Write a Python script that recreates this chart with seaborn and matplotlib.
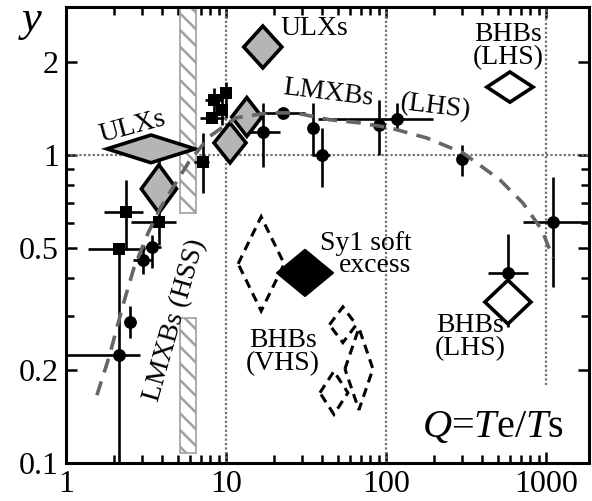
import numpy as np
import pandas as pd
import matplotlib
matplotlib.use("Agg")
import matplotlib.pyplot as plt
import seaborn as sns
from matplotlib.patches import Polygon, Rectangle
from matplotlib.ticker import FixedLocator, NullFormatter, FixedFormatter, LogLocator

# ---------------- data ----------------
# black circles with error bars
circ_q    = [2.14, 2.51, 3.03, 3.45, 17.0, 22.7, 35.0, 39.8, 90.0, 117, 298, 1107, 579]
circ_y    = [0.224, 0.287, 0.456, 0.503, 1.19, 1.37, 1.22, 1.00, 1.25, 1.31, 0.97, 0.606, 0.414]
circ_q_lo = [1.0, 2.51, 2.62, 3.11, 13.1, 16.7, 35.0, 34.4, 88.0, 37.5, 298, 718, 432]
circ_q_hi = [2.90, 2.51, 3.45, 3.92, 21.7, 31.1, 35.0, 44.7, 92.0, 197, 298, 1860, 772]
circ_y_lo = [0.1, 0.255, 0.41, 0.43, 0.914, 1.37, 1.0, 0.787, 1.0, 1.205, 0.855, 0.373, 0.277]
circ_y_hi = [0.5, 0.323, 0.51, 0.55, 1.475, 1.37, 1.475, 1.22, 1.51, 1.475, 1.078, 0.848, 0.554]

# black squares with error bars
sq_q    = [2.14, 2.37, 3.81, 7.18, 8.41, 9.44, 8.17, 10.0]
sq_y    = [0.495, 0.653, 0.606, 0.949, 1.51, 1.40, 1.32, 1.59]
sq_q_lo = [1.37, 1.73, 2.55, 6.3, 7.4, 9.44, 6.87, 10.0]
sq_q_hi = [3.11, 3.03, 4.87, 7.83, 9.4, 9.44, 9.7, 10.0]
sq_y_lo = [0.495, 0.49, 0.51, 0.753, 1.379, 1.251, 1.32, 1.318]
sq_y_hi = [0.495, 0.83, 0.963, 1.18, 1.65, 1.66, 1.32, 1.726]

# model curve (grey dashed)
curve_q = [1.56, 1.86, 2.30, 2.66, 3.26, 3.92, 5.87, 7.83, 11.5, 18.3, 27.0,
           44.7, 68.8, 106, 180, 303, 516, 718, 944, 1107]
curve_y = [0.166, 0.221, 0.333, 0.430, 0.558, 0.678, 0.949, 1.144, 1.318, 1.369, 1.369,
           1.30, 1.27, 1.224, 1.135, 1.015, 0.830, 0.698, 0.571, 0.463]

# diamonds: centre Q, centre y, half width / half height (decades)
grey_q  = [3.40, 3.81, 17.0, 13.5, 10.6]
grey_y  = [1.046, 0.776, 2.24, 1.328, 1.094]
grey_hw = [0.275, 0.11, 0.119, 0.094, 0.10]
grey_hh = [0.045, 0.078, 0.068, 0.063, 0.065]

open_q  = [596, 579]
open_y  = [1.66, 0.333]
open_hw = [0.144, 0.144]
open_hh = [0.049, 0.071]

sy1_q, sy1_y, sy1_hw, sy1_hh = [31.2], [0.414], [0.175], [0.075]

dash_q  = [16.6, 53.8, 67.8, 47.3]
dash_y  = [0.443, 0.281, 0.202, 0.169]
dash_hw = [0.144, 0.084, 0.0875, 0.0875]
dash_hh = [0.153, 0.058, 0.133, 0.070]

# hatched LMXB (HSS) band
band_q  = [5.17, 6.49]
band_y_segments = [(0.65, 3.1), (0.108, 0.296)]

x_ticks = [1, 10, 100, 1000]
x_labels = ["1", "10", "100", "1000"]
y_ticks = [0.1, 0.2, 0.5, 1, 2]
y_labels = ["0.1", "0.2", "0.5", "1", "2"]
y_minor = [0.3, 0.4, 0.6, 0.7, 0.8, 0.9]

# ---------------- style ----------------
sns.set_style("ticks")
plt.rcParams["font.family"] = ["Liberation Serif", "DejaVu Serif"]
plt.rcParams["mathtext.fontset"] = "custom"
plt.rcParams["mathtext.rm"] = "Liberation Serif"
plt.rcParams["mathtext.it"] = "Liberation Serif:italic"
plt.rcParams["hatch.color"] = "#9a9a9a"
plt.rcParams["hatch.linewidth"] = 1.8
plt.rcParams["text.color"] = "black"
plt.rcParams["xtick.color"] = "black"
plt.rcParams["ytick.color"] = "black"
plt.rcParams["xtick.labelcolor"] = "black"
plt.rcParams["ytick.labelcolor"] = "black"

fig = plt.figure(figsize=(5.92, 5.01), dpi=100)
ax = fig.add_axes([66 / 592, 38 / 501, 523 / 592, 456 / 501])
ax.set_xscale("log")
ax.set_yscale("log")
ax.set_xlim(1, 1860)
ax.set_ylim(0.1, 3.02)

# reference lines
grid_kw = dict(color="#707070", lw=1.6, linestyle=(0, (1, 1)), zorder=1)
ax.axvline(10, **grid_kw)
ax.axvline(100, **grid_kw)
ax.axvline(1000, ymin=0.17, ymax=1, **grid_kw)
ax.axhline(1, **grid_kw)

# hatched band
for lo, hi in band_y_segments:
    ax.add_patch(Rectangle((band_q[0], lo), band_q[1] - band_q[0], hi - lo,
                           facecolor="white", edgecolor="#a0a0a0", lw=1.2,
                           hatch="\\\\", zorder=1.5))

def diamond(q, y, hw, hh, **kw):
    verts = [(q * 10 ** (-hw), y), (q, y * 10 ** hh), (q * 10 ** hw, y), (q, y * 10 ** (-hh))]
    ax.add_patch(Polygon(verts, closed=True, **kw))

# error bars
cq, cy = np.array(circ_q, float), np.array(circ_y, float)
ax.errorbar(cq, cy,
            xerr=[cq - np.array(circ_q_lo), np.array(circ_q_hi) - cq],
            yerr=[cy - np.array(circ_y_lo), np.array(circ_y_hi) - cy],
            fmt="none", ecolor="black", elinewidth=1.9, capsize=0, zorder=2)
sq, sy = np.array(sq_q, float), np.array(sq_y, float)
ax.errorbar(sq, sy,
            xerr=[sq - np.array(sq_q_lo), np.array(sq_q_hi) - sq],
            yerr=[sy - np.array(sq_y_lo), np.array(sq_y_hi) - sy],
            fmt="none", ecolor="black", elinewidth=1.9, capsize=0, zorder=2)

sns.scatterplot(x=circ_q, y=circ_y, marker="o", s=85, color="black",
                edgecolor="black", linewidth=0, ax=ax, zorder=2.5)
sns.scatterplot(x=sq_q, y=sq_y, marker="s", s=64, color="black",
                edgecolor="black", linewidth=0, ax=ax, zorder=2.5)

# diamonds
for q, y, hw, hh in zip(grey_q, grey_y, grey_hw, grey_hh):
    diamond(q, y, hw, hh, facecolor="#b5b5b5", edgecolor="black", lw=2.6,
            joinstyle="miter", zorder=3)
for q, y, hw, hh in zip(open_q, open_y, open_hw, open_hh):
    diamond(q, y, hw, hh, facecolor="white", edgecolor="black", lw=2.6,
            joinstyle="miter", zorder=3)
for q, y, hw, hh in zip(sy1_q, sy1_y, sy1_hw, sy1_hh):
    diamond(q, y, hw, hh, facecolor="black", edgecolor="black", lw=1.5,
            joinstyle="round", zorder=3)
for q, y, hw, hh in zip(dash_q, dash_y, dash_hw, dash_hh):
    diamond(q, y, hw, hh, facecolor="none", edgecolor="black", lw=2.2,
            linestyle=(0, (3, 2)), zorder=3)

# model curve
sns.lineplot(x=curve_q, y=curve_y, ax=ax, color="#666666", lw=2.6,
             linestyle=(0, (4, 2.6)), sort=False, zorder=4)

# ticks
ax.xaxis.set_major_locator(FixedLocator(x_ticks))
ax.xaxis.set_major_formatter(FixedFormatter(x_labels))
ax.xaxis.set_minor_locator(LogLocator(base=10, subs=np.arange(2, 10), numticks=20))
ax.xaxis.set_minor_formatter(NullFormatter())
ax.yaxis.set_major_locator(FixedLocator(y_ticks))
ax.yaxis.set_major_formatter(FixedFormatter(y_labels))
ax.yaxis.set_minor_locator(FixedLocator(y_minor))
ax.yaxis.set_minor_formatter(NullFormatter())
ax.tick_params(which="both", direction="in", top=True, right=True, width=1.8, color="black")
ax.tick_params(which="major", length=8, labelsize=23, pad=5)
ax.tick_params(which="minor", length=5.5)
for s in ax.spines.values():
    s.set_linewidth(2.2)
    s.set_color("black")

# texts
fs = 20
ax.text(35.5, 2.58, "ULXs", fontsize=fs, ha="center", va="center", zorder=5)
ax.text(2.59, 1.233, "ULXs", fontsize=fs, ha="center", va="center", rotation=15, zorder=5)
ax.text(43.4, 1.59, "LMXBs", fontsize=fs, ha="center", va="center", rotation=-7, zorder=5)
ax.text(205, 1.43, "(LHS)", fontsize=fs, ha="center", va="center", rotation=-7, zorder=5)
ax.text(579, 2.26, "BHBs\n(LHS)", fontsize=fs, ha="center", va="center", linespacing=0.9, zorder=5)
ax.text(145, 0.474, "Sy1 soft\nexcess", fontsize=fs, ha="right", va="center",
        multialignment="right", linespacing=0.82, zorder=5)
ax.text(22.7, 0.229, "BHBs\n(VHS)", fontsize=fs, ha="center", va="center", linespacing=0.9, zorder=5)
ax.text(335, 0.256, "BHBs\n(LHS)", fontsize=fs, ha="center", va="center", linespacing=0.9, zorder=5)
ax.text(4.80, 0.291, "LMXBs (HSS)", fontsize=fs, ha="center", va="center", rotation=74, zorder=5)
ax.text(466, 0.130, r"$Q$=$T$e/$T$s", fontsize=29, ha="center", va="center", zorder=5)
fig.text(32 / 592, 1 - 20 / 501, "y", fontsize=32, style="italic", ha="center", va="center")

fig.savefig("out.png", dpi=100)
